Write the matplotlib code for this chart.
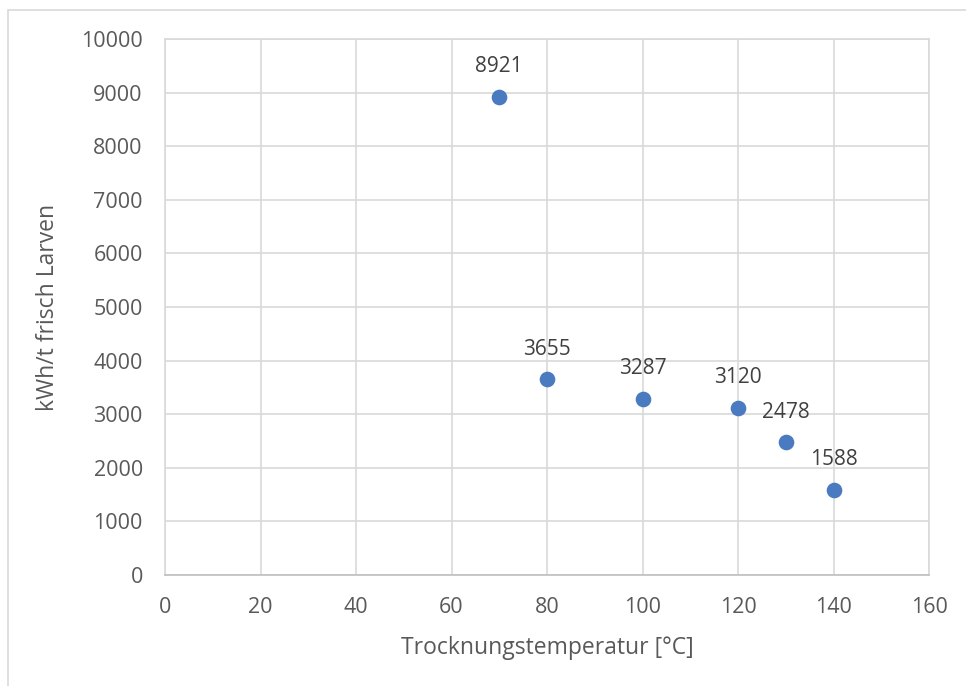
import matplotlib
matplotlib.use("Agg")
import matplotlib.pyplot as plt
from matplotlib.patches import Rectangle

# Drying temperature vs. energy demand
temps = [70, 80, 100, 120, 130, 140]
energy = [8921, 3655, 3287, 3120, 2478, 1588]
x_ticks = [0, 20, 40, 60, 80, 100, 120, 140, 160]
y_ticks = [0, 1000, 2000, 3000, 4000, 5000, 6000, 7000, 8000, 9000, 10000]

plt.rcParams['font.family'] = ['Open Sans', 'DejaVu Sans']

fig = plt.figure(figsize=(9.66, 6.86), dpi=100)
ax = fig.add_axes([165 / 966, 1 - 575 / 686, (929 - 165) / 966, (575 - 39) / 686])

# outer chart frame (cut at right/bottom like the screenshot)
fig.patches.append(Rectangle((8 / 966, -0.1), 1.1, 1 - 10 / 686 + 0.1,
                             transform=fig.transFigure, fill=False,
                             edgecolor='#d9d9d9', linewidth=1.2))

ax.scatter(temps, energy, s=105, color='#4A7BC0', zorder=3)
for t, e in zip(temps, energy):
    ax.annotate(str(e), (t, e), xytext=(0, 14), textcoords='offset points',
                ha='center', va='bottom', fontsize=15, color='#404040')

ax.set_xlim(0, 160)
ax.set_ylim(0, 10000)
ax.set_xticks(x_ticks)
ax.set_yticks(y_ticks)
ax.grid(True, color='#d9d9d9', linewidth=1.2)
ax.set_axisbelow(True)
for side in ['top', 'right', 'left']:
    ax.spines[side].set_color('#d9d9d9')
    ax.spines[side].set_linewidth(1.2)
ax.spines['bottom'].set_color('#bfbfbf')
ax.spines['bottom'].set_linewidth(1.2)
ax.tick_params(axis='both', length=0, labelsize=15.5, labelcolor='#595959')
ax.tick_params(axis='y', pad=16)
ax.tick_params(axis='x', pad=16)

ax.set_xlabel('Trocknungstemperatur [°C]', fontsize=16.5, color='#595959', labelpad=13)
ax.set_ylabel('kWh/t frisch Larven', fontsize=16.5, color='#595959', labelpad=15)

fig.savefig('out.png', dpi=100)
